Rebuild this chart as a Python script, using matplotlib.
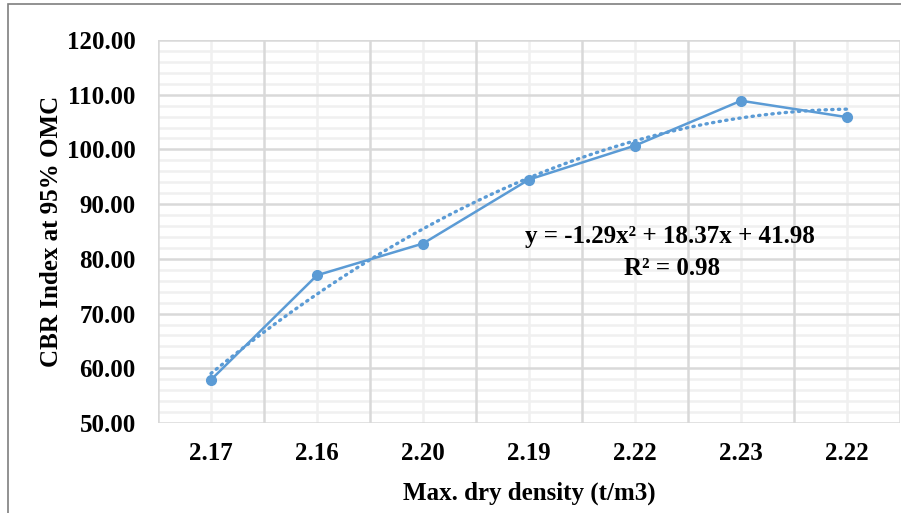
import numpy as np
import matplotlib.pyplot as plt
from matplotlib.patches import Rectangle

# data
density_labels = ['2.17', '2.16', '2.20', '2.19', '2.22', '2.23', '2.22']
cbr_values = [57.9, 77.0, 82.8, 94.5, 100.7, 108.9, 105.9]
trend_coef = [-1.29, 18.37, 41.98]   # Excel poly trendline (x = 1..n)
r_squared = 0.98

blue = '#5B9BD5'
plt.rcParams['font.family'] = ['Liberation Serif', 'DejaVu Serif']
plt.rcParams['font.weight'] = 'bold'
FS = 18

fig = plt.figure(figsize=(9.01, 5.13), dpi=100)
ax = fig.add_axes([158/901, 1 - 423/513, (900-158)/901, (423-40)/513])

# outer frame like the exported chart
fig.patches.append(Rectangle((8/901, -0.1), 1.2, (513-4)/513 + 0.1, transform=fig.transFigure,
                             fill=False, edgecolor='#7f7f7f', linewidth=1.2))

x = np.arange(1, len(cbr_values) + 1)
ax.plot(x, cbr_values, color=blue, linewidth=1.8, marker='o', markersize=7, zorder=4)

xt = np.linspace(1, len(cbr_values), 200)
ax.plot(xt, np.polyval(trend_coef, xt), color=blue, linewidth=2.4,
        linestyle=(0, (0.4, 1.6)), dash_capstyle='round', zorder=3)

ax.set_xlim(0.5, len(cbr_values) + 0.5)
ax.set_ylim(50, 120)

ax.set_yticks(np.arange(50, 121, 10))
ax.set_yticklabels(['{:.2f}'.format(v) for v in np.arange(50, 121, 10)])
ax.set_xticks(x)
ax.set_xticklabels(density_labels)

# gridlines: horizontal major every 10, minor every 2; vertical major between categories
for v in np.arange(50, 121, 2):
    if v % 10:
        ax.axhline(v, color='#f0f0f0', linewidth=1.8, zorder=0)
for v in np.arange(50, 121, 10):
    ax.axhline(v, color='#d9d9d9', linewidth=1.8, zorder=1)
for v in x:
    ax.axvline(v, color='#f0f0f0', linewidth=1.8, zorder=0)
for v in np.arange(0.5, len(cbr_values) + 1, 1):
    ax.axvline(v, color='#d9d9d9', linewidth=1.8, zorder=1)

for s in ax.spines.values():
    s.set_visible(False)
ax.tick_params(which='both', length=0)
ax.tick_params(axis='y', labelsize=FS, pad=16)
ax.tick_params(axis='x', labelsize=FS, pad=14)

ax.set_xlabel('Max. dry density (t/m3)', fontsize=FS, fontweight='bold')
ax.set_ylabel('CBR Index at 95% OMC', fontsize=FS, fontweight='bold')
ax.xaxis.set_label_coords(0.5, -0.152)
ax.yaxis.set_label_coords(-0.128, 0.5)

eq = 'y = {:.2f}x² + {:.2f}x + {:.2f}'.format(*trend_coef)
ax.text(5.33, 84.0, eq, fontsize=FS, fontweight='bold', ha='center', va='center', zorder=5)
ax.text(5.35, 78.3, 'R² = {:.2f}'.format(r_squared), fontsize=FS, fontweight='bold',
        ha='center', va='center', zorder=5)

fig.savefig('out.png', dpi=100)
